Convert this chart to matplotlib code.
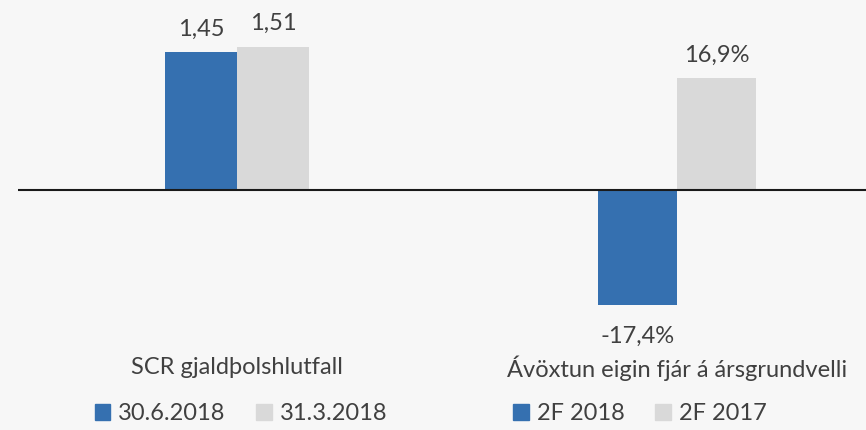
import matplotlib
matplotlib.use('Agg')
import matplotlib.pyplot as plt
from matplotlib.patches import Patch
from matplotlib.transforms import blended_transform_factory

BG = '#f7f7f7'; BLUE = '#3570b0'; GREY = '#d9d9d9'; TXT = '#404040'
plt.rcParams['font.family'] = ['Lato', 'DejaVu Sans']

# left panel: solvency ratio
scr_cat = 'SCR gjaldþolshlutfall'
scr_series = ['30.6.2018', '31.3.2018']
scr_vals = [1.45, 1.51]
scr_labels = ['1,45', '1,51']

# right panel: return on equity
roe_cat = 'Ávöxtun eigin fjár á ársgrundvelli'
roe_series = ['2F 2018', '2F 2017']
roe_vals = [-17.4, 16.9]
roe_labels = ['-17,4%', '16,9%']

W, H = 866, 430
FS = 17
fig = plt.figure(figsize=(W / 100, H / 100), dpi=100)
fig.patch.set_facecolor(BG)

top, bot, zero = 10, 350, 190  # pixel rows


def panel(x0, x1, center, barpx, scale, cat, series, vals, labels, legx):
    ax = fig.add_axes([x0 / W, 1 - bot / H, (x1 - x0) / W, (bot - top) / H])
    ax.set_facecolor(BG)
    bw = 0.35
    unit = barpx / bw
    ax.set_xlim(-(center - x0) / unit, (x1 - center) / unit)
    ax.set_ylim(-(bot - zero) / scale, (zero - top) / scale)
    xs = [-bw / 2, bw / 2]
    bars = ax.bar(xs, vals, width=bw, color=[BLUE, GREY], zorder=2)
    for b, v, lab in zip(bars, vals, labels):
        x = b.get_x() + b.get_width() / 2
        if v >= 0:
            ax.annotate(lab, (x, v), xytext=(0, 9), textcoords='offset points',
                        ha='center', va='bottom', fontsize=FS, color=TXT)
        else:
            ax.annotate(lab, (x, v), xytext=(0, -15), textcoords='offset points',
                        ha='center', va='top', fontsize=FS, color=TXT)
    ax.axhline(0, color='#1a1a1a', lw=1.5, zorder=3)
    for s in ax.spines.values():
        s.set_visible(False)
    ax.set_xticks([]); ax.set_yticks([])
    tr = blended_transform_factory(ax.transData, fig.transFigure)
    ax.text(0, 1 - 368 / H, cat, transform=tr, ha='center', va='center',
            fontsize=FS, color=TXT)
    handles = [Patch(color=BLUE), Patch(color=GREY)]
    fig.legend(handles, series, loc='center', bbox_to_anchor=(legx / W, 1 - 414 / H),
               ncol=2, frameon=False, fontsize=FS, labelcolor=TXT,
               handlelength=0.65, handleheight=0.65, handletextpad=0.35, columnspacing=1.3)
    return ax


panel(18, 433, 237, 72, 95.0, scr_cat, scr_series, scr_vals, scr_labels, 241)
panel(433, 866, 677, 79, 6.6, roe_cat, roe_series, roe_vals, roe_labels, 640)

fig.savefig('out.png', dpi=100, facecolor=BG)
